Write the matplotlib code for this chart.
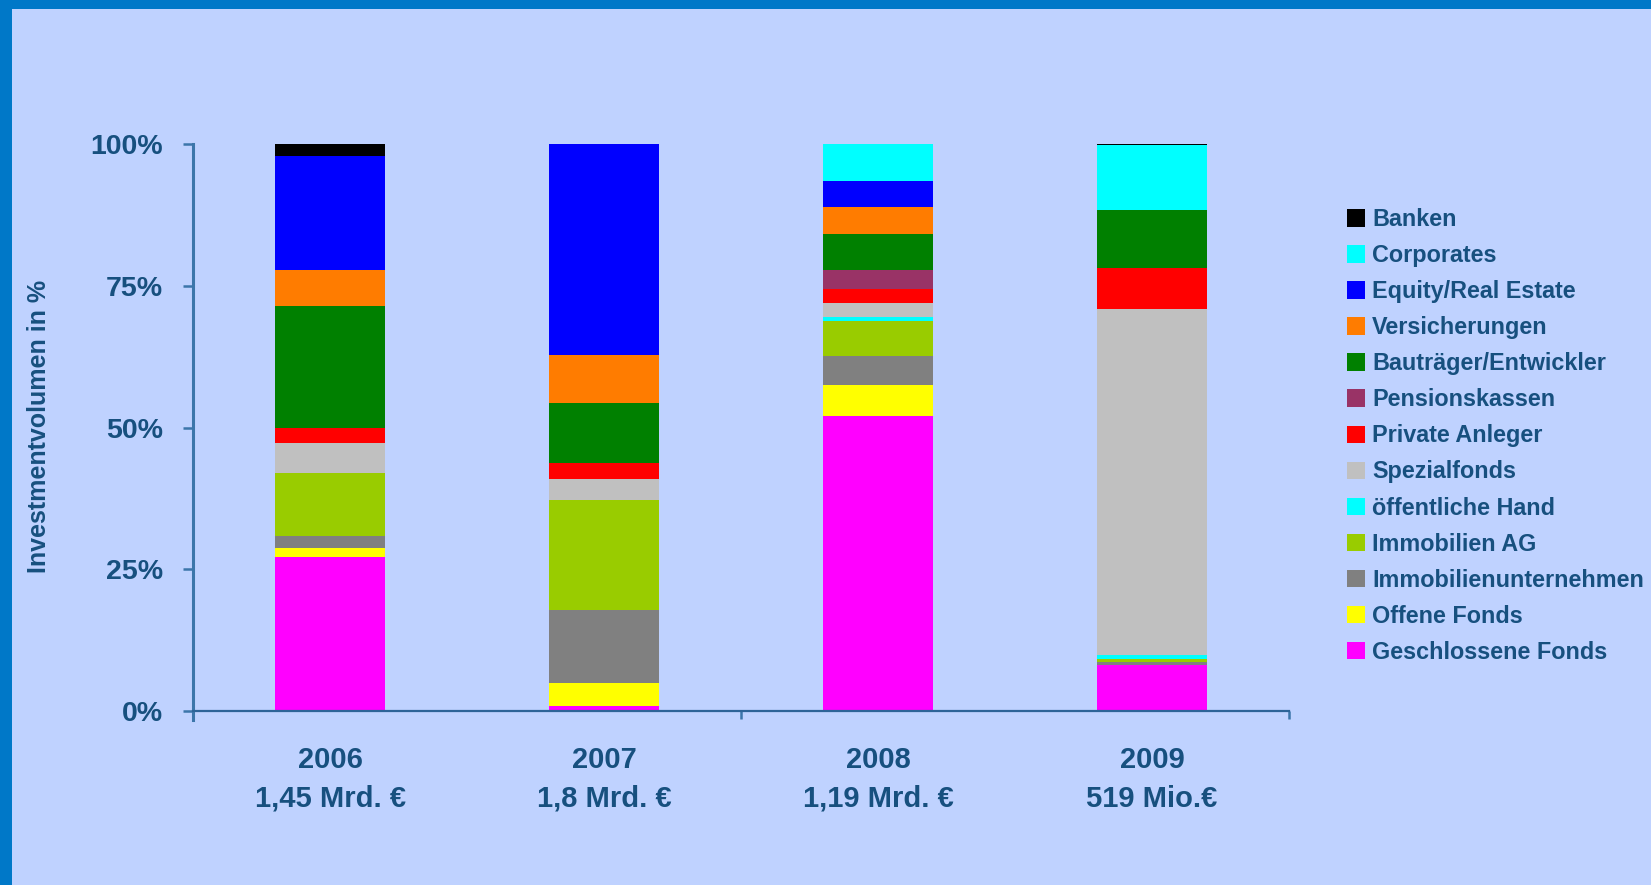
import matplotlib
matplotlib.use("Agg")
import matplotlib.pyplot as plt
from matplotlib.patches import Rectangle
from matplotlib.transforms import blended_transform_factory
import numpy as np

# ---- data (percent of yearly investment volume) ----
years = ["2006", "2007", "2008", "2009"]
volumes = ["1,45 Mrd. €", "1,8 Mrd. €", "1,19 Mrd. €", "519 Mio.€"]

geschlossene_fonds = [27.1, 0.9, 52.1, 8.1]
offene_fonds = [1.6, 4.1, 5.4, 0.0]
immobilienunternehmen = [2.1, 12.9, 5.2, 0.6]
immobilien_ag = [11.2, 19.3, 6.2, 0.5]
oeffentliche_hand = [0.0, 0.0, 0.7, 0.6]
spezialfonds = [5.3, 3.7, 2.4, 61.2]
private_anleger = [2.7, 2.8, 2.5, 7.1]
pensionskassen = [0.0, 0.0, 3.4, 0.0]
bautraeger = [21.4, 10.7, 6.2, 10.3]
versicherungen = [6.5, 8.4, 4.9, 0.0]
equity_real_estate = [20.0, 37.2, 4.6, 0.0]
corporates = [0.0, 0.0, 6.4, 11.4]
banken = [2.1, 0.0, 0.0, 0.2]

series_names = ["Geschlossene Fonds", "Offene Fonds", "Immobilienunternehmen",
                "Immobilien AG", "öffentliche Hand", "Spezialfonds",
                "Private Anleger", "Pensionskassen", "Bauträger/Entwickler",
                "Versicherungen", "Equity/Real Estate", "Corporates", "Banken"]
series_values = [geschlossene_fonds, offene_fonds, immobilienunternehmen,
                 immobilien_ag, oeffentliche_hand, spezialfonds, private_anleger,
                 pensionskassen, bautraeger, versicherungen, equity_real_estate,
                 corporates, banken]
series_colors = ["#FF00FF", "#FFFF00", "#808080", "#99CC00", "#00FFFF",
                 "#C0C0C0", "#FF0000", "#993366", "#008000", "#FF7C00",
                 "#0000FF", "#00FFFF", "#000000"]

# ---- style ----
BG = "#BFD2FF"
BORDER = "#0078C8"
TXT = "#17507F"
AXC = "#3C76AA"
FONT = "Liberation Sans"

fig = plt.figure(figsize=(16.51, 8.85), dpi=100, facecolor=BG)
W, H = 1651, 885
# blue frame (top and left)
fig.patches.append(Rectangle((0, 1 - 9 / H), 1, 9 / H, transform=fig.transFigure,
                             facecolor=BORDER, edgecolor="none", zorder=0))
fig.patches.append(Rectangle((0, 0), 12 / W, 1, transform=fig.transFigure,
                             facecolor=BORDER, edgecolor="none", zorder=0))

x0, x1 = 193 / W, 1289 / W
ytop, ybot = 144.3, 711
ax = fig.add_axes([x0, (H - ybot) / H, x1 - x0, (ybot - ytop) / H])
ax.set_facecolor("none")

x = np.arange(len(years))
bottom = np.zeros(len(years))
handles = []
for name, vals, col in zip(series_names, series_values, series_colors):
    v = np.array(vals) / 100.0
    h = ax.bar(x, v, width=0.404, bottom=bottom, color=col, edgecolor="none",
               label=name, zorder=2)
    handles.append(h)
    bottom += v

ax.set_xlim(-0.5, 3.5)
ax.set_ylim(0, 1)
for s in ["top", "right"]:
    ax.spines[s].set_visible(False)
ax.spines["left"].set_color(AXC)
ax.spines["left"].set_linewidth(2.2)
ax.spines["bottom"].set_color("#2D6498")
ax.spines["bottom"].set_linewidth(1.6)
ax.spines["left"].set_bounds(-0.015, 1)

ax.set_yticks([0, 0.25, 0.5, 0.75, 1.0])
ax.set_yticklabels(["0%", "25%", "50%", "75%", "100%"])
ax.tick_params(axis="y", direction="out", length=7.5, width=1.8, color=AXC,
               pad=14, labelsize=20.5, labelcolor=TXT)
ax.set_xticks([-0.5, 1.5, 3.5])
ax.set_xticklabels(["", "", ""])
ax.tick_params(axis="x", direction="out", length=6, width=1.8, color=AXC)
for lab in ax.get_yticklabels():
    lab.set_fontfamily(FONT)
    lab.set_fontweight("bold")

trans = blended_transform_factory(ax.transData, ax.transAxes)
for i, (yr, vol) in enumerate(zip(years, volumes)):
    ax.text(x[i], -0.062, yr + "\n" + vol, transform=trans, ha="center", va="top",
            fontsize=21, fontweight="bold", color=TXT, family=FONT,
            linespacing=1.48)

fig.text(39 / W, (H - 426) / H, "Investmentvolumen in %", rotation=90,
         ha="center", va="center", fontsize=18, fontweight="bold", color=TXT,
         family=FONT)

leg = fig.legend(handles[::-1], series_names[::-1], loc="upper left",
                 bbox_to_anchor=(1347 / W, (H - 208) / H), frameon=False,
                 borderpad=0, borderaxespad=0, handlelength=0.78,
                 handleheight=0.78, handletextpad=0.3, labelspacing=0.56,
                 prop={"family": FONT, "weight": "bold", "size": 16.8})
for t in leg.get_texts():
    t.set_color(TXT)

fig.savefig("out.png", dpi=100, facecolor=BG)
